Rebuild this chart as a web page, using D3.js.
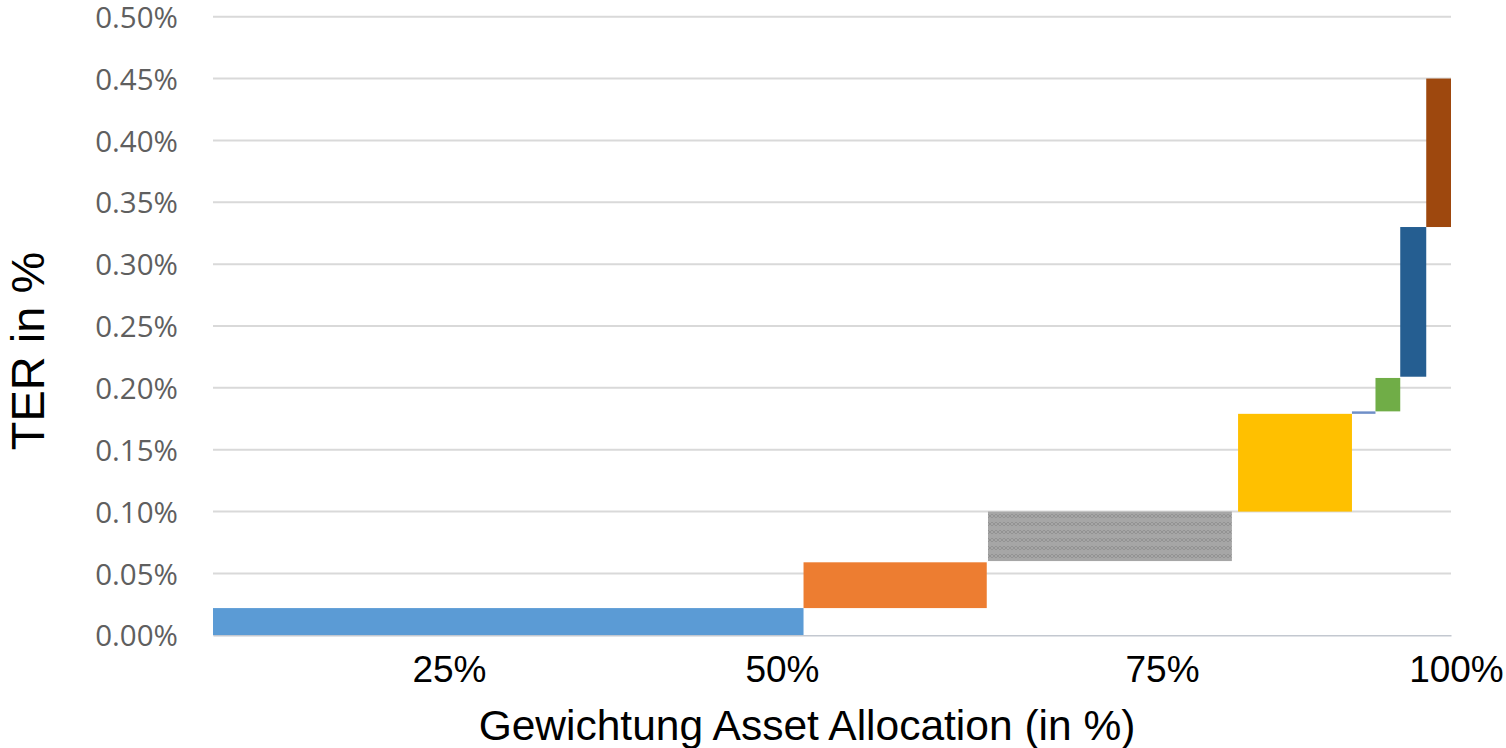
<!DOCTYPE html>
<html>
<head>
<meta charset="utf-8">
<script src="https://cdn.jsdelivr.net/npm/d3@7"></script>
<style>
  html, body { margin: 0; padding: 0; background: #fff; }
  svg { display: block; }
</style>
</head>
<body>
<svg id="chart" width="1506" height="748"></svg>
<script>
// ---- data (cumulative weight in %, TER range in %) ----
const segNames   = ["A", "B", "C", "D", "E", "F", "G", "H"];
const segXStart  = [0,    47.7, 62.6, 82.8, 92.0,  93.9,  95.9, 98.0];
const segXEnd    = [47.7, 62.5, 82.3, 92.0, 93.9,  95.9,  98.0, 100];
const segYLow    = [0,    0.022, 0.060, 0.100, 0.179, 0.181, 0.209, 0.330];
const segYHigh   = [0.022, 0.059, 0.100, 0.179, 0.181, 0.208, 0.330, 0.450];
const segColors  = ["#5B9BD5", "#ED7D31", "url(#grayPattern)", "#FFC000", "#6F8FC8", "#70AD47", "#255E91", "#9E480E"];

const yTicks      = [0, 0.05, 0.10, 0.15, 0.20, 0.25, 0.30, 0.35, 0.40, 0.45, 0.50];
const xTickAt     = [19.06, 45.96, 76.66, 100.4];
const xTickLabels = ["25%", "50%", "75%", "100%"];
const xTitle = "Gewichtung Asset Allocation (in %)";
const yTitle = "TER in %";

// ---- layout ----
const svg = d3.select("#chart");
const mLeft = 213, mRight = 1451, mTop = 16.7, mBottom = 635.3;

const x = d3.scaleLinear().domain([0, 100]).range([mLeft, mRight]);
const y = d3.scaleLinear().domain([0, 0.5]).range([mBottom, mTop]);

// pattern for gray segment
const defs = svg.append("defs");
const pat = defs.append("pattern").attr("id", "grayPattern")
  .attr("patternUnits", "userSpaceOnUse").attr("width", 8).attr("height", 8);
pat.append("rect").attr("width", 8).attr("height", 8).attr("fill", "#A6A6A6");
pat.append("path").attr("d", "M0,2 L4,6 L8,2 M0,6 L4,2 L8,6")
  .attr("stroke", "#939393").attr("stroke-width", 1).attr("fill", "none");

// gridlines
const grid = svg.append("g").attr("class", "grid");
grid.selectAll("line").data(yTicks.filter(d => d > 0)).join("line")
  .attr("x1", mLeft).attr("x2", mRight)
  .attr("y1", d => y(d)).attr("y2", d => y(d))
  .attr("stroke", "#D9D9D9").attr("stroke-width", 2);

// y axis labels
const yAxis = d3.axisLeft(y).tickValues(yTicks).tickSize(0).tickPadding(35)
  .tickFormat(d => d3.format(".2f")(d) + "%");
const gy = svg.append("g").attr("transform", `translate(${mLeft},0)`).call(yAxis);
gy.select(".domain").remove();
gy.selectAll("text")
  .attr("font-family", "'Open Sans', 'Noto Sans', sans-serif")
  .attr("font-size", 29.5).attr("fill", "#5f5f5f").attr("dy", "0.36em");

// bars
const segs = segNames.map((n, i) => ({
  name: n, x0: segXStart[i], x1: segXEnd[i], y0: segYLow[i], y1: segYHigh[i], color: segColors[i]
}));
svg.append("g").selectAll("rect").data(segs).join("rect")
  .attr("x", d => x(d.x0))
  .attr("width", d => x(d.x1) - x(d.x0))
  .attr("y", d => y(d.y1))
  .attr("height", d => y(d.y0) - y(d.y1))
  .attr("fill", d => d.color);

// x axis
const xAxis = d3.axisBottom(x).tickValues(xTickAt).tickSize(0)
  .tickFormat((d, i) => xTickLabels[i]);
const gx = svg.append("g").attr("transform", `translate(0,${mBottom})`).call(xAxis);
gx.select(".domain").attr("stroke", "#C3C8D0").attr("stroke-width", 1.5);
gx.selectAll("text")
  .attr("font-family", "'Liberation Sans', Arial, sans-serif")
  .attr("font-size", 37).attr("fill", "#000")
  .attr("dy", 0).attr("y", 46.5);

// axis titles
svg.append("text")
  .attr("x", 807).attr("y", 740)
  .attr("text-anchor", "middle")
  .attr("font-family", "'Liberation Sans', Arial, sans-serif")
  .attr("font-size", 42.5).attr("fill", "#000")
  .text(xTitle);

svg.append("text")
  .attr("transform", "translate(44,351) rotate(-90)")
  .attr("text-anchor", "middle")
  .attr("font-family", "'Liberation Sans', Arial, sans-serif")
  .attr("font-size", 47).attr("fill", "#000")
  .text(yTitle);
</script>
</body>
</html>
